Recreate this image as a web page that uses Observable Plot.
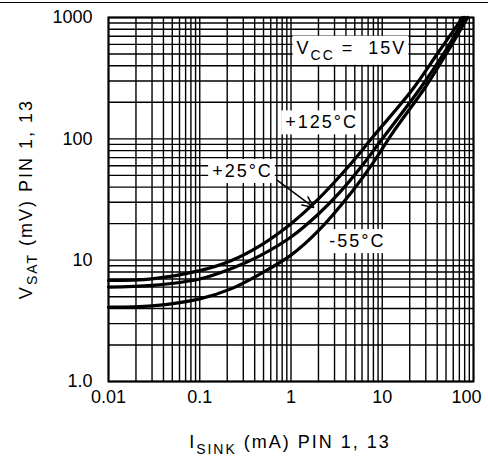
<!DOCTYPE html>
<html><head><meta charset="utf-8">
<script src="https://cdn.jsdelivr.net/npm/d3@7"></script>
<script src="https://cdn.jsdelivr.net/npm/@observablehq/plot@0.6"></script>
<style>
body{margin:0;background:#fff;}
#topline{position:absolute;left:0;top:2px;width:488px;border-top:1px solid #000;}
#chart{position:absolute;left:0;top:0;}
</style></head><body><div id="topline"></div><div id="chart"></div><script>
// tick labels
const xTicks=[0.01,0.1,1,10,100];
const xTickLabels=["0.01","0.1","1","10","100"];
const yTicks=[1,10,100,1000];
const yTickLabels=["1.0","10","100","1000"];
// curves (I_SINK mA, V_SAT mV)
const temps=["+125°C","+25°C","-55°C"];
const iSink125=[0.01,0.03,0.1,0.22,0.46,1,2,4.5,8,21,40,76];
const vSat125 =[6.8,7.0,8.2,9.9,13.2,20,32,62,105,250,500,1000];
const iSink25 =[0.01,0.03,0.1,0.22,0.46,1,2,3.4,6,10,26,50,80];
const vSat25  =[6.0,6.2,7.0,8.5,10.9,15.5,24,36,60,100,260,540,1000];
const iSinkM55=[0.01,0.03,0.1,0.22,0.46,1,2,4.7,8,13,30,55,86];
const vSatM55 =[4.1,4.2,4.8,5.8,7.7,11,17.5,37,64,112,270,560,1000];
// annotations
const labelText=["+125°C","+25°C","-55°C"];
const labelX=[2.16,0.294,5.35];
const labelY=[136,54,14.3];
const arrowFrom=[0.71,45.4], arrowTo=[1.77,27.2];
const vccX=4.6, vccY=560;

const rows=[];
[[iSink125,vSat125],[iSink25,vSat25],[iSinkM55,vSatM55]].forEach(([xs,vs],k)=>{
  xs.forEach((x,i)=>rows.push({i:x,v:vs[i],t:temps[k]}));
});
const labels=labelText.map((t,i)=>({t,x:labelX[i],y:labelY[i]}));

const xsc=d3.scaleLog().domain([0.01,100]);
const ysc=d3.scaleLog().domain([1,1000]);
const font="Liberation Sans, Arial, sans-serif";

const plot=Plot.plot({
  width:488,height:469,marginTop:17,marginBottom:88,marginLeft:108,marginRight:15,
  style:{fontFamily:font,fontSize:"18px",background:"transparent",color:"#000",overflow:"visible"},
  x:{type:"log",domain:[0.01,100],axis:null},
  y:{type:"log",domain:[1,1000],axis:null},
  marks:[
    Plot.ruleX(xsc.ticks(),{x:d=>d,stroke:"#000",strokeWidth:1.4,strokeOpacity:1}),
    Plot.ruleY(ysc.ticks(),{y:d=>d,stroke:"#000",strokeWidth:1.4,strokeOpacity:1}),
    Plot.frame({stroke:"#000",strokeWidth:2}),
    Plot.line(rows,{x:"i",y:"v",z:"t",stroke:"#000",strokeWidth:3.2,curve:"catmull-rom"}),
    Plot.arrow([0],{x1:()=>arrowFrom[0],y1:()=>arrowFrom[1],x2:()=>arrowTo[0],y2:()=>arrowTo[1],stroke:"#000",strokeWidth:1.5,headLength:12,headAngle:50}),
    Plot.text(labels,{x:"x",y:"y",text:"t",className:"lbl",fontSize:18,fill:"#000"}),
    Plot.text([0],{x:()=>vccX,y:()=>vccY,text:()=>"VCC = 15V",className:"vcc",fontSize:18,fill:"#000"}),
    Plot.text(xTicks.slice(0,4),{x:d=>d,text:(d,i)=>xTickLabels[i],frameAnchor:"bottom",lineAnchor:"top",dy:9,fontSize:18}),
    Plot.text(xTicks.slice(4),{x:d=>d,text:()=>xTickLabels[4],frameAnchor:"bottom",lineAnchor:"top",textAnchor:"end",dy:9,dx:8,fontSize:18}),
    Plot.text(yTicks,{y:d=>d,text:(d,i)=>yTickLabels[i],frameAnchor:"left",textAnchor:"end",dx:-16,fontSize:18})
  ]
});
document.getElementById("chart").append(plot);
const sel=d3.select(plot);
sel.selectAll(".lbl text, .vcc text").attr("letter-spacing","2");
sel.selectAll(".vcc text").each(function(){
  const t=d3.select(this); t.text(null);
  t.append("tspan").text("V");
  t.append("tspan").attr("dy",6).attr("font-size",14).text("CC");
  t.append("tspan").attr("dy",-6).text(" =  15V");
});
sel.selectAll(".lbl text, .vcc text").each(function(){
  const b=this.getBBox();
  const r=document.createElementNS("http://www.w3.org/2000/svg","rect");
  r.setAttribute("x",b.x-4);r.setAttribute("y",b.y-2);
  r.setAttribute("width",b.width+6);r.setAttribute("height",b.height+4);
  r.setAttribute("fill","#fff");r.setAttribute("stroke","none");
  if(this.getAttribute("transform"))r.setAttribute("transform",this.getAttribute("transform"));
  this.parentNode.insertBefore(r,this);
});
// axis titles
const yt=sel.append("text").attr("transform","translate(32,199) rotate(-90)").attr("text-anchor","middle")
  .attr("font-family",font).attr("font-size",18).attr("letter-spacing","2").attr("fill","#000");
yt.append("tspan").text("V");
yt.append("tspan").attr("dy",5).attr("font-size",14).text("SAT");
yt.append("tspan").attr("dy",-5).text(" (mV) PIN 1, 13");
const xt=sel.append("text").attr("x",290).attr("y",448).attr("text-anchor","middle")
  .attr("font-family",font).attr("font-size",18).attr("letter-spacing","2").attr("fill","#000");
xt.append("tspan").text("I");
xt.append("tspan").attr("dy",6).attr("font-size",14).text("SINK");
xt.append("tspan").attr("dy",-6).text(" (mA) PIN 1, 13");
</script></body></html>
